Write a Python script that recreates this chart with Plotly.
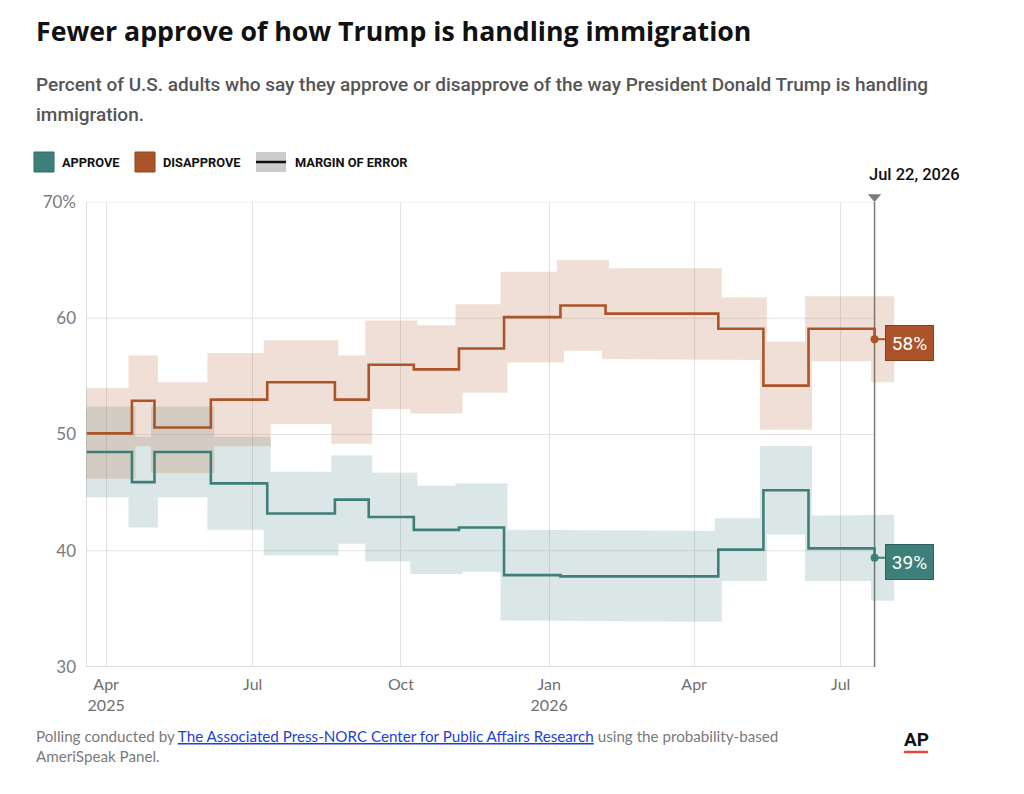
# Approbation de la politique d'immigration de Trump - sondages AP-NORC
import plotly.graph_objects as go

# Données
poll_dates = [
    "2025-03-20", "2025-04-17", "2025-05-01", "2025-06-05", "2025-07-10",
    "2025-08-21", "2025-09-11", "2025-10-09", "2025-11-06", "2025-12-04",
    "2026-01-08", "2026-02-05", "2026-04-16", "2026-05-14", "2026-06-11",
    "2026-07-22",
]
approve = [48.5, 45.9, 48.5, 45.8, 43.2, 44.4, 42.9, 41.8, 42.0, 37.9,
           37.8, 37.8, 40.1, 45.2, 40.2, 39.4]
disapprove = [50.1, 52.9, 50.6, 53.0, 54.5, 53.0, 56.0, 55.6, 57.4, 60.1,
              61.1, 60.4, 59.1, 54.2, 59.1, 58.2]
margin_of_error = [3.6, 3.6, 3.6, 3.7, 3.3, 3.5, 3.5, 3.5, 3.5, 3.6,
                   3.6, 3.6, 2.4, 3.5, 2.5, 3.4]
band_end = "2026-08-01"

x_tickvals = ["2025-04-01", "2025-07-01", "2025-10-01", "2026-01-01", "2026-04-01", "2026-07-01"]
x_ticktext = ["Apr<br>2025", "Jul", "Oct", "Jan<br>2026", "Apr", "Jul"]
y_tickvals = [30, 40, 50, 60, 70]
y_ticktext = ["30", "40", "50", "60", "70%"]

# Style
C_APP, C_APP_BAND = "#3e7f7a", "#3d807b"
C_DIS, C_DIS_BAND = "#ab5429", "#b0562a"
GRID = "#e3e3e3"
X_START, X_END = "2025-03-19 12:00", "2026-08-06 19:00"
L, R, T, B = 86, 900, 202, 667
W, H = 1024, 794


def px_x(px):
    return (px - L) / (R - L)


def px_y(py):
    return (B - py) / (B - T)


def band_polygon(values, moe):
    # zone de marge d'erreur en escalier, du sondage i jusqu'au suivant
    edges = poll_dates[1:] + [band_end]
    xs, up, lo = [], [], []
    for i, v in enumerate(values):
        xs += [poll_dates[i], edges[i]]
        up += [v + moe[i]] * 2
        lo += [v - moe[i]] * 2
    px_ = xs + xs[::-1] + [xs[0]]
    py_ = up + lo[::-1] + [up[0]]
    return px_, py_


fig = go.Figure()

for vals, col in [(approve, C_APP_BAND), (disapprove, C_DIS_BAND)]:
    bx, by = band_polygon(vals, margin_of_error)
    fig.add_trace(go.Scatter(
        x=bx, y=by, mode="lines", fill="toself", fillcolor=col,
        line=dict(color=col, width=7), opacity=0.18,
        hoverinfo="skip", showlegend=False,
    ))

for vals, col in [(approve, C_APP), (disapprove, C_DIS)]:
    fig.add_trace(go.Scatter(
        x=poll_dates, y=vals, mode="lines", line_shape="hv",
        line=dict(color=col, width=2.6), showlegend=False,
    ))
    fig.add_trace(go.Scatter(
        x=[poll_dates[-1]], y=[vals[-1]], mode="markers",
        marker=dict(color=col, size=8), cliponaxis=False, showlegend=False,
    ))

shapes = []
for v in y_tickvals[1:]:
    shapes.append(dict(type="line", xref="x", yref="y", x0=X_START, x1=poll_dates[-1],
                       y0=v, y1=v, line=dict(color=GRID, width=1), layer="below"))
shapes.append(dict(type="line", xref="x", yref="y", x0=X_START, x1=poll_dates[-1],
                   y0=30, y1=30, line=dict(color="#d2d2d2", width=1.5), layer="below"))
shapes.append(dict(type="line", xref="x", yref="y", x0=X_START, x1=X_START,
                   y0=30, y1=70, line=dict(color="#d2d2d2", width=1.5), layer="below"))
shapes.append(dict(type="line", xref="x", yref="y", x0=poll_dates[-1], x1=poll_dates[-1],
                   y0=30, y1=70, line=dict(color="#7a7a7a", width=1.5), layer="below"))
# triangle au-dessus de la ligne de date
shapes.append(dict(type="path", xref="x", yref="paper", xsizemode="pixel", ysizemode="pixel",
                   xanchor=poll_dates[-1], yanchor=1, path="M -6.7,7.8 L 6.7,7.8 L 0,0 Z",
                   fillcolor="#7a7a7a", line=dict(width=0)))

# connecteurs vers les étiquettes
for vals, col in [(approve, C_APP), (disapprove, C_DIS)]:
    shapes.append(dict(type="line", xref="x", yref="y", xsizemode="pixel",
                       xanchor=poll_dates[-1], x0=0, x1=11,
                       y0=vals[-1], y1=vals[-1], line=dict(color=col, width=2)))

# légende faite à la main
shapes += [
    dict(type="rect", xref="paper", yref="paper", x0=px_x(34), x1=px_x(54),
         y0=px_y(172), y1=px_y(152), fillcolor=C_APP, line=dict(color="#2f6e69", width=1)),
    dict(type="rect", xref="paper", yref="paper", x0=px_x(135), x1=px_x(155),
         y0=px_y(172), y1=px_y(152), fillcolor=C_DIS, line=dict(color="#8f4420", width=1)),
    dict(type="rect", xref="paper", yref="paper", x0=px_x(256), x1=px_x(286),
         y0=px_y(172), y1=px_y(152), fillcolor="#cccccc", line=dict(width=0)),
    dict(type="line", xref="paper", yref="paper", x0=px_x(256), x1=px_x(286),
         y0=px_y(162), y1=px_y(162), line=dict(color="#111111", width=2.5)),
    # soulignement rouge du logo AP
    dict(type="line", xref="paper", yref="paper", x0=px_x(904), x1=px_x(928),
         y0=px_y(752), y1=px_y(752), line=dict(color="#e8483b", width=2.5)),
]

LEG_FONT = dict(family="Roboto", size=12.8, color="#111111", weight=700)
SUB_FONT = dict(family="Roboto", size=19, color="#555555", weight=500)
annotations = [
    dict(text="Fewer approve of how Trump is handling immigration", x=px_x(34), y=px_y(30),
         font=dict(family="Open Sans", size=26.7, color="#111111", weight=700)),
    dict(text="Percent of U.S. adults who say they approve or disapprove of the way President Donald Trump is handling",
         x=px_x(34), y=px_y(85), font=SUB_FONT),
    dict(text="immigration.", x=px_x(34), y=px_y(114), font=SUB_FONT),
    dict(text="APPROVE", x=px_x(60), y=px_y(162), font=LEG_FONT),
    dict(text="DISAPPROVE", x=px_x(161), y=px_y(162), font=LEG_FONT),
    dict(text="MARGIN OF ERROR", x=px_x(293), y=px_y(162), font=LEG_FONT),
    dict(text='Polling conducted by <a href="https://apnorc.org/" style="color:#1f3fd8;text-decoration:underline">'
              'The Associated Press-NORC Center for Public Affairs Research</a> using the probability-based<br>AmeriSpeak Panel.',
         x=px_x(34), y=px_y(746), font=dict(family="Lato", size=15.2, color="#7a7a7a")),
    dict(text="AP", x=px_x(916), y=px_y(739), xanchor="center",
         font=dict(family="Roboto", size=19, color="#111111", weight=700)),
]
for a in annotations:
    a.update(xref="paper", yref="paper", showarrow=False, yanchor="middle", align="left")
    a.setdefault("xanchor", "left")

annotations.append(dict(
    text="Jul 22, 2026", xref="x", yref="paper", x=poll_dates[-1], y=px_y(175),
    xanchor="left", yanchor="middle", xshift=-8, showarrow=False,
    font=dict(family="Roboto", size=16.5, color="#111111", weight=500),
))
for vals, col, border in [(approve, C_APP, "#2c625e"), (disapprove, C_DIS, "#84401e")]:
    annotations.append(dict(
        text=f"{vals[-1]:.0f}%", xref="x", yref="y", x=poll_dates[-1], y=vals[-1],
        xanchor="left", yanchor="middle", xshift=10, yshift=-4, showarrow=False,
        width=47, height=34, borderpad=0, borderwidth=1, bordercolor=border, bgcolor=col,
        font=dict(family="Roboto", size=19, color="white"),
    ))

fig.update_layout(
    width=W, height=H,
    margin=dict(l=L, r=W - R, t=T, b=H - B, pad=0),
    plot_bgcolor="white", paper_bgcolor="white",
    showlegend=False,
    shapes=shapes, annotations=annotations,
    xaxis=dict(type="date", range=[X_START, X_END], tickvals=x_tickvals, ticktext=x_ticktext,
               showgrid=True, gridcolor=GRID, gridwidth=1, zeroline=False, showline=False,
               ticks="", ticklabelstandoff=6,
               tickfont=dict(family="Lato", size=16, color="#6f6f6f")),
    yaxis=dict(range=[30, 70], tickvals=y_tickvals, ticktext=y_ticktext,
               showgrid=False, zeroline=False, showline=False, ticks="", ticklabelstandoff=9,
               tickfont=dict(family="Lato", size=17, color="#7a7a7a")),
)

fig.write_html("out.html", config={"displayModeBar": False},
               post_script="document.body.style.margin='0';")
